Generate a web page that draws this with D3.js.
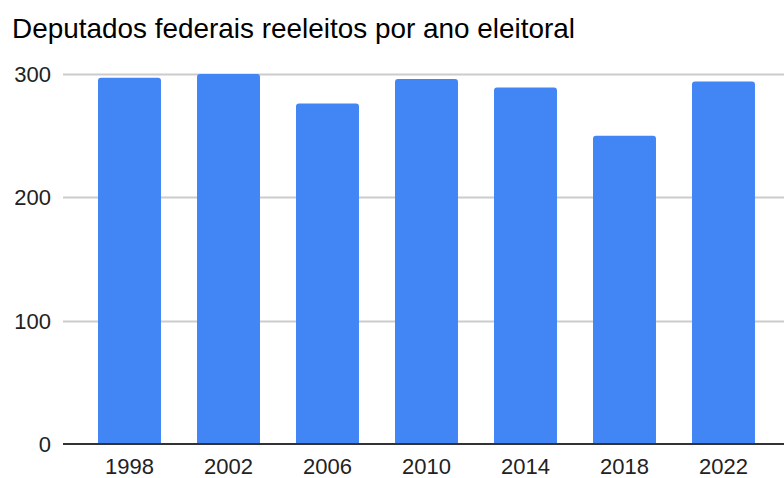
<!DOCTYPE html>
<html>
<head>
<meta charset="utf-8">
<script src="https://cdn.jsdelivr.net/npm/d3@7"></script>
<style>
  html, body { margin: 0; padding: 0; background: #fff; }
  svg { display: block; font-family: Arial, "Liberation Sans", sans-serif; }
</style>
</head>
<body>
<svg id="chart" width="784" height="478"></svg>
<script>
const title = "Deputados federais reeleitos por ano eleitoral";
const years = ["1998", "2002", "2006", "2010", "2014", "2018", "2022"];
const reelected = [297, 300, 276, 296, 289, 250, 294];
const yTicks = [0, 100, 200, 300];

const W = 784, H = 478;
const svg = d3.select("#chart");

const x = d3.scaleBand().domain(years).range([80, 773]).paddingInner(0.364).paddingOuter(0.182);
const y = d3.scaleLinear().domain([0, 300]).range([444, 74]);

svg.append("text")
  .attr("x", 12).attr("y", 38)
  .attr("font-size", 28).attr("fill", "#000")
  .attr("textLength", 563).attr("lengthAdjust", "spacingAndGlyphs")
  .text(title);

// gridlines
svg.append("g").selectAll("line")
  .data(yTicks.filter(d => d !== 0))
  .join("line")
  .attr("x1", 63).attr("x2", W)
  .attr("y1", d => Math.round(y(d)) + 0.5).attr("y2", d => Math.round(y(d)) + 0.5)
  .attr("stroke", "#cccccc").attr("stroke-width", 2);

// y labels
svg.append("g").selectAll("text")
  .data(yTicks)
  .join("text")
  .attr("x", 51).attr("y", d => y(d))
  .attr("dy", "0.36em")
  .attr("text-anchor", "end")
  .attr("font-size", 22).attr("fill", "#222")
  .text(d => d);

// bars with rounded tops
const r = 3;
svg.append("g").selectAll("path")
  .data(years.map((yr, i) => ({ yr, v: reelected[i] })))
  .join("path")
  .attr("fill", "#4285f4")
  .attr("d", d => {
    const x0 = x(d.yr), w = x.bandwidth(), t = y(d.v), b = y(0);
    return `M${x0},${b}V${t + r}Q${x0},${t} ${x0 + r},${t}H${x0 + w - r}Q${x0 + w},${t} ${x0 + w},${t + r}V${b}Z`;
  });

// baseline
svg.append("line")
  .attr("x1", 63).attr("x2", W)
  .attr("y1", y(0)).attr("y2", y(0))
  .attr("stroke", "#333").attr("stroke-width", 2);

// x axis labels
const xAxis = d3.axisBottom(x).tickSize(0).tickPadding(0);
const gx = svg.append("g").attr("transform", `translate(0,${y(0)})`).call(xAxis);
gx.select(".domain").remove();
gx.selectAll("text")
  .attr("font-size", 22).attr("fill", "#222")
  .attr("font-family", "Arial, 'Liberation Sans', sans-serif")
  .attr("y", 30).attr("dy", 0);
</script>
</body>
</html>
